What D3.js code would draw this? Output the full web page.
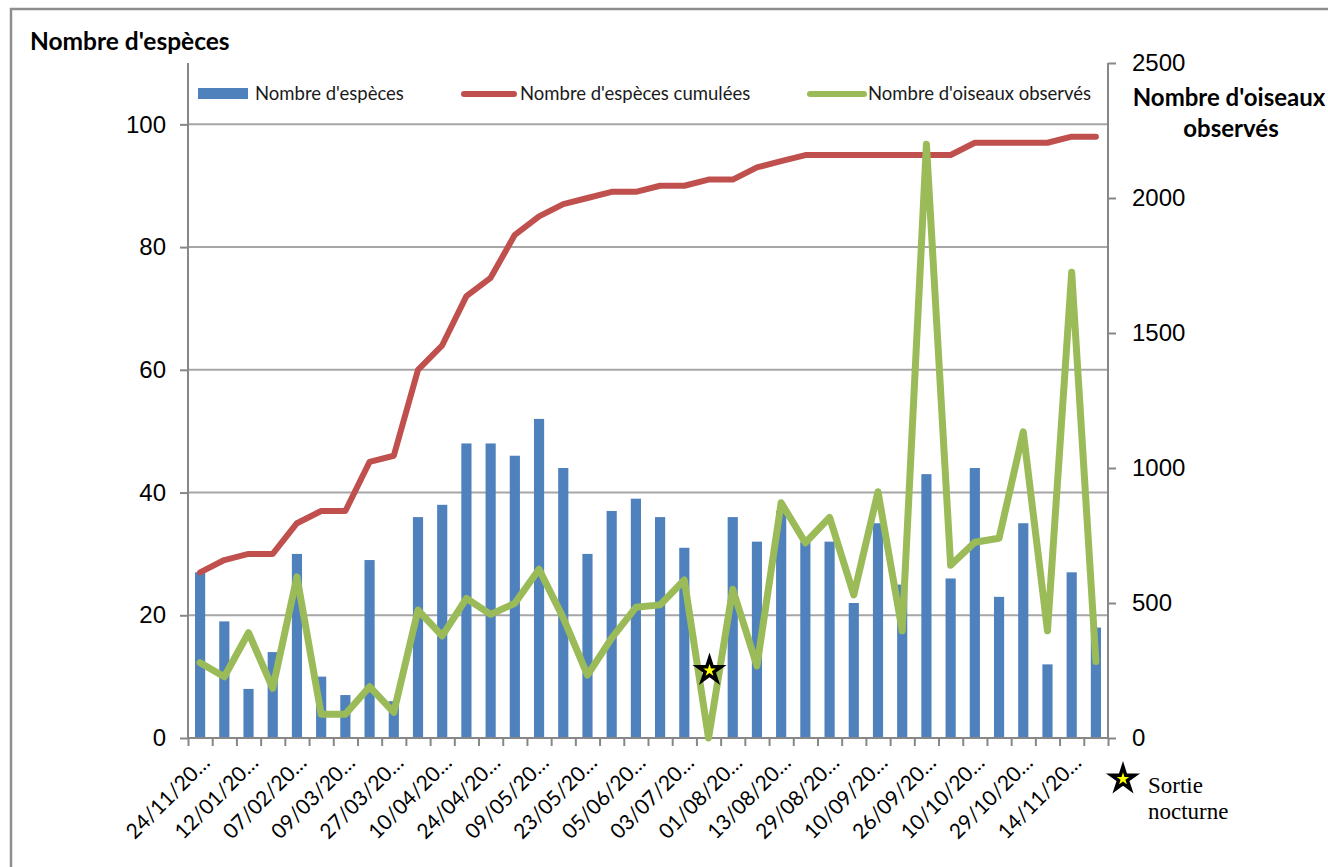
<!DOCTYPE html>
<html>
<head>
<meta charset="utf-8">
<script src="https://cdn.jsdelivr.net/npm/d3@7"></script>
<style>
  body { margin: 0; background: #fff; }
  svg { display: block; }
</style>
</head>
<body>
<svg id="chart" width="1328" height="867"></svg>
<script>
// Survey outings: one entry per outing, in date order
const dateLabels = [
  "24/11/20…", "12/01/20…", "07/02/20…", "09/03/20…", "27/03/20…",
  "10/04/20…", "24/04/20…", "09/05/20…", "23/05/20…", "05/06/20…",
  "03/07/20…", "01/08/20…", "13/08/20…", "29/08/20…", "10/09/20…",
  "26/09/20…", "10/10/20…", "29/10/20…", "14/11/20…"
];
const labelEvery = 2; // only every other outing carries a date label

// Number of species seen per outing
const species = [
  27, 19, 8, 14, 30, 10, 7, 29, 6, 36,
  38, 48, 48, 46, 52, 44, 30, 37, 39, 36,
  31, 0, 36, 32, 37, 32, 32, 22, 35, 25,
  43, 26, 44, 23, 35, 12, 27, 18
];

// Cumulated number of species
const cumulative = [
  27, 29, 30, 30, 35, 37, 37, 45, 46, 60,
  64, 72, 75, 82, 85, 87, 88, 89, 89, 90,
  90, 91, 91, 93, 94, 95, 95, 95, 95, 95,
  95, 95, 97, 97, 97, 97, 98, 98
];

// Number of birds observed per outing
const birds = [
  279, 227, 390, 184, 597, 88, 88, 190, 95, 474,
  378, 517, 458, 499, 625, 445, 233, 370, 484, 493,
  585, 0, 551, 267, 871, 723, 817, 530, 912, 397,
  2199, 640, 725, 740, 1134, 397, 1725, 283
];

// Night outings, flagged with a star at the given species level
const nightOutings = [{ index: 21, level: 11 }];

const leftTicks = [0, 20, 40, 60, 80, 100];
const rightTicks = [0, 500, 1000, 1500, 2000, 2500];

const seriesNames = ["Nombre d'espèces", "Nombre d'espèces cumulées", "Nombre d'oiseaux observés"];
const colors = { bars: "#4F81BD", cumul: "#C0504D", birds: "#9BBB59", grid: "#A6A6A6", axis: "#878787" };

const svg = d3.select("#chart");
const plot = { left: 188, right: 1108, top: 63, bottom: 738 };
const n = species.length;

const x = d3.scaleBand()
  .domain(d3.range(n))
  .range([plot.left, plot.right])
  .paddingInner(0.58)
  .paddingOuter(0.29);
const cx = i => x(i) + x.bandwidth() / 2;
const xEdges = d3.scaleLinear().domain([0, n]).range([plot.left, plot.right]);

const yL = d3.scaleLinear().domain([0, 110]).range([plot.bottom, plot.top]);
const yR = d3.scaleLinear().domain([0, 2500]).range([plot.bottom, plot.top]);

// Outer frame
svg.append("rect")
  .attr("x", 11).attr("y", 9).attr("width", 1400).attr("height", 900)
  .attr("fill", "none").attr("stroke", "#8E8E8E").attr("stroke-width", 2.5);

// Horizontal gridlines
svg.append("g")
  .selectAll("line")
  .data(leftTicks.filter(d => d > 0))
  .join("line")
  .attr("x1", plot.left).attr("x2", plot.right)
  .attr("y1", d => yL(d)).attr("y2", d => yL(d))
  .attr("stroke", colors.grid).attr("stroke-width", 2);

// Bars
svg.append("g")
  .selectAll("rect")
  .data(species)
  .join("rect")
  .attr("x", (d, i) => x(i))
  .attr("width", x.bandwidth())
  .attr("y", d => yL(d))
  .attr("height", d => yL(0) - yL(d))
  .attr("fill", colors.bars);

// Left axis
const axisL = svg.append("g")
  .attr("transform", `translate(${plot.left},0)`)
  .call(d3.axisLeft(yL).tickValues(leftTicks).tickSize(8).tickPadding(14));
// Right axis
const axisR = svg.append("g")
  .attr("transform", `translate(${plot.right},0)`)
  .call(d3.axisRight(yR).tickValues(rightTicks).tickFormat(d3.format("d")).tickSize(8).tickPadding(16));
// Bottom axis: ticks on outing boundaries
const axisB = svg.append("g")
  .attr("transform", `translate(0,${plot.bottom})`)
  .call(d3.axisBottom(xEdges).tickValues(d3.range(n + 1)).tickSize(8).tickFormat(""));

[axisL, axisR, axisB].forEach(g => {
  g.selectAll("path.domain").attr("stroke", colors.axis).attr("stroke-width", 2);
  g.selectAll(".tick line").attr("stroke", colors.axis).attr("stroke-width", 2);
  g.selectAll(".tick text")
    .attr("font-family", "'Liberation Sans', Arial, sans-serif")
    .attr("font-size", 24).attr("fill", "#000");
});
axisL.select("path.domain").attr("d", `M0,${plot.bottom}V${plot.top}`);
axisR.select("path.domain").attr("d", `M0,${plot.bottom}V${plot.top}`);
axisB.select("path.domain").attr("d", `M${plot.left},0H${plot.right}`);

// Date labels, rotated
svg.append("g")
  .selectAll("text")
  .data(dateLabels)
  .join("text")
  .attr("transform", (d, k) => `translate(${cx(k * labelEvery) + 11},${plot.bottom + 26}) rotate(-45)`)
  .attr("text-anchor", "end")
  .attr("font-family", "Lato, 'Open Sans', sans-serif")
  .attr("font-size", 21)
  .attr("fill", "#000")
  .text(d => d);

// Cumulated species line
svg.append("path")
  .datum(cumulative)
  .attr("d", d3.line().x((d, i) => cx(i)).y(d => yL(d)))
  .attr("fill", "none").attr("stroke", colors.cumul)
  .attr("stroke-width", 6).attr("stroke-linejoin", "round").attr("stroke-linecap", "round");

// Birds observed line
svg.append("path")
  .datum(birds)
  .attr("d", d3.line().x((d, i) => cx(i)).y(d => yR(d)))
  .attr("fill", "none").attr("stroke", colors.birds)
  .attr("stroke-width", 7).attr("stroke-linejoin", "round").attr("stroke-linecap", "round");

// Night outing stars
const star = d3.symbol().type(d3.symbolStar).size(170);
svg.append("g")
  .selectAll("path")
  .data(nightOutings)
  .join("path")
  .attr("transform", d => `translate(${cx(d.index) + 1},${yL(d.level)})`)
  .attr("d", star)
  .attr("fill", "#FFFF00").attr("stroke", "#000").attr("stroke-width", 3.5);

// Axis titles
svg.append("text")
  .attr("x", 30).attr("y", 50)
  .attr("font-family", "Lato, sans-serif").attr("font-weight", "bold").attr("font-size", 24.5)
  .attr("fill", "#000").text("Nombre d'espèces");
const rTitle = svg.append("text")
  .attr("x", 1229).attr("y", 106).attr("text-anchor", "middle")
  .attr("font-family", "Lato, sans-serif").attr("font-weight", "bold").attr("font-size", 24)
  .attr("fill", "#000");
rTitle.append("tspan").attr("x", 1229).attr("dy", 0).text("Nombre d'oiseaux");
rTitle.append("tspan").attr("x", 1231).attr("dy", 31).text("observés");

// Legend
const legend = svg.append("g").attr("font-family", "Lato, sans-serif").attr("font-size", 18.5).attr("fill", "#1a1a1a");
legend.append("rect").attr("x", 198).attr("y", 88).attr("width", 50).attr("height", 11).attr("fill", colors.bars);
legend.append("text").attr("x", 255).attr("y", 100).text(seriesNames[0]);
legend.append("line").attr("x1", 464).attr("x2", 514).attr("y1", 94).attr("y2", 94)
  .attr("stroke", colors.cumul).attr("stroke-width", 6).attr("stroke-linecap", "round");
legend.append("text").attr("x", 520).attr("y", 100).text(seriesNames[1]);
legend.append("line").attr("x1", 810).attr("x2", 864).attr("y1", 94).attr("y2", 94)
  .attr("stroke", colors.birds).attr("stroke-width", 6).attr("stroke-linecap", "round");
legend.append("text").attr("x", 868).attr("y", 100).text(seriesNames[2]);

// Night outing key
svg.append("path")
  .attr("transform", "translate(1123,779)")
  .attr("d", star)
  .attr("fill", "#FFFF00").attr("stroke", "#000").attr("stroke-width", 3.5);
const keyFont = "'Liberation Serif', 'Times New Roman', serif";
svg.append("text")
  .attr("x", 1148).attr("y", 793)
  .attr("font-family", keyFont).attr("font-size", 23).attr("fill", "#000")
  .text("Sortie");
svg.append("text")
  .attr("x", 1148).attr("y", 819)
  .attr("font-family", keyFont).attr("font-size", 23).attr("fill", "#000")
  .text("nocturne");
</script>
</body>
</html>
